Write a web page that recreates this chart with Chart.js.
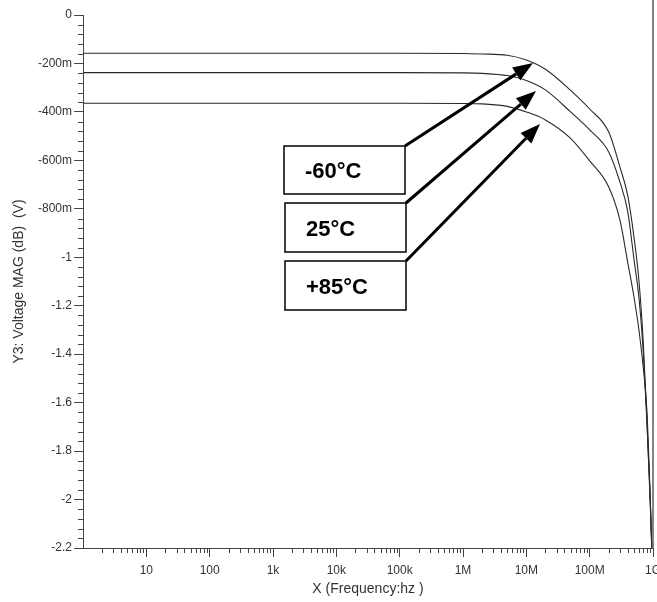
<!DOCTYPE html>
<html>
<head>
<meta charset="utf-8">
<script src="https://cdn.jsdelivr.net/npm/chart.js@4"></script>
<style>
  html, body { margin: 0; padding: 0; background: #ffffff; }
  #wrap { width: 657px; height: 602px; }
</style>
</head>
<body>
<div id="wrap"><canvas id="c" width="657" height="602"></canvas></div>
<script>
// ---- data ----
const frequencies = [1, 10, 100, 1e3, 1e4, 1e5, 1e6, 2e6, 5e6, 1e7, 2e7, 5e7, 1e8, 2e8, 3e8, 4e8, 5e8, 6e8, 7e8, 8e8, 9e8, 1e9];
const magMinus60 = [-0.158, -0.158, -0.158, -0.158, -0.158, -0.158, -0.159, -0.161, -0.166, -0.186, -0.224, -0.311, -0.388, -0.483, -0.627, -0.747, -0.916, -1.097, -1.345, -1.671, -2.0, -2.35];
const mag25 = [-0.238, -0.238, -0.238, -0.238, -0.238, -0.238, -0.239, -0.241, -0.250, -0.270, -0.309, -0.400, -0.474, -0.565, -0.689, -0.813, -1.007, -1.167, -1.386, -1.671, -1.98, -2.35];
const magPlus85 = [-0.364, -0.364, -0.364, -0.364, -0.364, -0.364, -0.365, -0.367, -0.377, -0.400, -0.433, -0.509, -0.602, -0.710, -0.846, -1.023, -1.163, -1.30, -1.452, -1.63, -1.98, -2.35];
const seriesNames = ['-60°C', '25°C', '+85°C'];

const xTickValues = [10, 100, 1e3, 1e4, 1e5, 1e6, 1e7, 1e8, 1e9];
const xTickLabels = ['10', '100', '1k', '10k', '100k', '1M', '10M', '100M', '1G'];
const yTickValues = [0, -0.2, -0.4, -0.6, -0.8, -1, -1.2, -1.4, -1.6, -1.8, -2, -2.2];
const yTickLabels = ['0', '-200m', '-400m', '-600m', '-800m', '-1', '-1.2', '-1.4', '-1.6', '-1.8', '-2', '-2.2'];

const xTitle = 'X (Frequency:hz )';
const yTitle = 'Y3: Voltage MAG (dB)  (V)';

// ---- helpers ----
const toPoints = arr => frequencies.map((f, i) => ({ x: f, y: arr[i] }));
const lineStyle = {
  borderColor: '#2a2a2a',
  borderWidth: 1.1,
  pointRadius: 0,
  fill: false,
  cubicInterpolationMode: 'monotone'
};

const AXIS_COLOR = '#444444';
const TEXT_COLOR = '#333333';
const FONT_FAMILY = '"Liberation Sans", Arial, sans-serif';

// annotation boxes (label overlay), in canvas pixels
const labelBoxes = [
  { text: seriesNames[0], left: 284, top: 146, w: 121, h: 48, tip: [533, 63] },
  { text: seriesNames[1], left: 285, top: 203, w: 121, h: 49, tip: [536, 91] },
  { text: seriesNames[2], left: 285, top: 261, w: 121, h: 49, tip: [540, 124] }
];

const extrasPlugin = {
  id: 'extras',
  afterDraw(chart) {
    const { ctx, chartArea, scales: { x, y } } = chart;
    ctx.save();
    // minor ticks
    ctx.strokeStyle = AXIS_COLOR;
    ctx.lineWidth = 1;
    ctx.beginPath();
    for (let i = 0; i <= 55; i++) {
      if (i % 5 === 0) continue;
      const py = Math.round(y.getPixelForValue(-i * 0.04)) + 0.5;
      ctx.moveTo(chartArea.left - 5, py);
      ctx.lineTo(chartArea.left, py);
    }
    for (let d = 0; d < 9; d++) {
      for (let m = 2; m <= 9; m++) {
        const px = Math.round(x.getPixelForValue(m * Math.pow(10, d))) + 0.5;
        ctx.moveTo(px, chartArea.bottom);
        ctx.lineTo(px, chartArea.bottom + 5);
      }
    }
    ctx.stroke();

    // right boundary line
    const rx = x.getPixelForValue(1e9);
    ctx.strokeStyle = '#666666';
    ctx.lineWidth = 1.6;
    ctx.beginPath();
    ctx.moveTo(rx, 0);
    ctx.lineTo(rx, chartArea.bottom);
    ctx.stroke();

    // label boxes with arrows
    labelBoxes.forEach(b => {
      ctx.fillStyle = '#ffffff';
      ctx.fillRect(b.left, b.top, b.w, b.h);
      ctx.strokeStyle = '#000000';
      ctx.lineWidth = 1.5;
      ctx.strokeRect(b.left, b.top, b.w, b.h);
      ctx.fillStyle = '#000000';
      ctx.font = 'bold 22px ' + FONT_FAMILY;
      ctx.textAlign = 'left';
      ctx.textBaseline = 'middle';
      ctx.fillText(b.text, b.left + 21, b.top + b.h / 2 + 2);

      const sx = b.left + b.w, sy = b.top;
      const [tx, ty] = b.tip;
      const ang = Math.atan2(ty - sy, tx - sx);
      const headLen = 20, headHalf = 7.5;
      const bx = tx - headLen * Math.cos(ang), by = ty - headLen * Math.sin(ang);
      ctx.strokeStyle = '#000000';
      ctx.lineWidth = 3;
      ctx.lineCap = 'butt';
      ctx.beginPath();
      ctx.moveTo(sx, sy);
      ctx.lineTo(bx, by);
      ctx.stroke();
      ctx.beginPath();
      ctx.moveTo(tx, ty);
      ctx.lineTo(bx + headHalf * Math.sin(ang), by - headHalf * Math.cos(ang));
      ctx.lineTo(bx - headHalf * Math.sin(ang), by + headHalf * Math.cos(ang));
      ctx.closePath();
      ctx.fill();
    });
    ctx.restore();
  }
};

new Chart(document.getElementById('c'), {
  type: 'line',
  data: {
    datasets: [
      Object.assign({ label: seriesNames[0], data: toPoints(magMinus60) }, lineStyle),
      Object.assign({ label: seriesNames[1], data: toPoints(mag25) }, lineStyle),
      Object.assign({ label: seriesNames[2], data: toPoints(magPlus85) }, lineStyle)
    ]
  },
  options: {
    responsive: false,
    animation: false,
    devicePixelRatio: 1,
    layout: { padding: { left: 0, right: 4, top: 15, bottom: 0 } },
    plugins: { legend: { display: false }, tooltip: { enabled: false } },
    scales: {
      x: {
        type: 'logarithmic',
        min: 1,
        max: 1e9,
        afterBuildTicks: s => { s.ticks = xTickValues.map(v => ({ value: v })); },
        afterFit: s => { s.height = 54; s.paddingLeft = 0; s.paddingRight = 0; },
        ticks: {
          autoSkip: false,
          maxRotation: 0,
          padding: 6,
          color: TEXT_COLOR,
          font: { family: FONT_FAMILY, size: 12 },
          callback: v => { const i = xTickValues.indexOf(v); return i >= 0 ? xTickLabels[i] : ''; }
        },
        grid: { display: true, drawOnChartArea: false, drawTicks: true, tickLength: 9, tickColor: AXIS_COLOR, tickWidth: 1 },
        border: { display: true, color: AXIS_COLOR, width: 1 },
        title: {
          display: true,
          text: xTitle,
          color: TEXT_COLOR,
          font: { family: FONT_FAMILY, size: 14 },
          padding: { top: 0, bottom: 4 }
        }
      },
      y: {
        type: 'linear',
        min: -2.2,
        max: 0,
        afterBuildTicks: s => { s.ticks = yTickValues.map(v => ({ value: v })); },
        afterFit: s => { s.width = 83; s.paddingTop = 0; s.paddingBottom = 0; },
        ticks: {
          autoSkip: false,
          padding: 2,
          color: TEXT_COLOR,
          font: { family: FONT_FAMILY, size: 12 },
          callback: v => {
            const i = yTickValues.findIndex(t => Math.abs(t - v) < 1e-9);
            return i >= 0 ? yTickLabels[i] : '';
          }
        },
        grid: { display: true, drawOnChartArea: false, drawTicks: true, tickLength: 9, tickColor: AXIS_COLOR, tickWidth: 1 },
        border: { display: true, color: AXIS_COLOR, width: 1 },
        title: {
          display: true,
          text: yTitle,
          color: TEXT_COLOR,
          font: { family: FONT_FAMILY, size: 14 },
          padding: { top: 11, bottom: 0 }
        }
      }
    }
  },
  plugins: [extrasPlugin]
});
</script>
</body>
</html>
